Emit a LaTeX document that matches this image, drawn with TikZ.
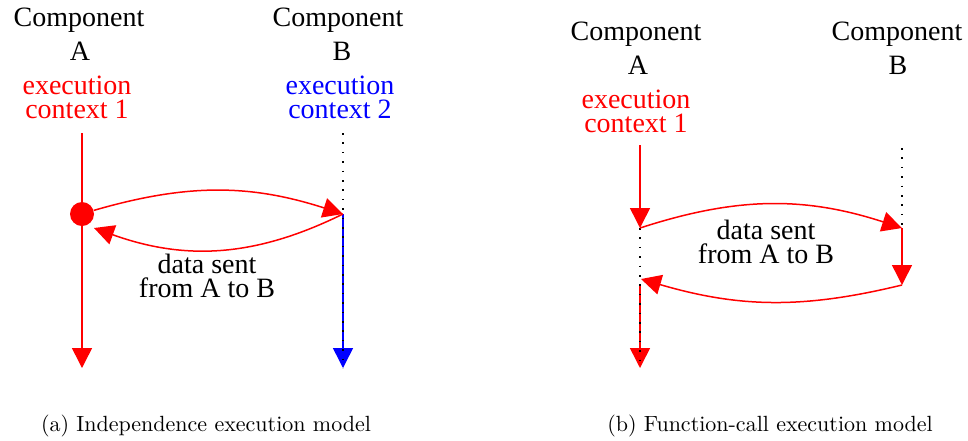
\documentclass[tikz,border=0pt]{standalone}
\usepackage{fontspec}
\setmainfont{Liberation Serif}
\newfontfamily\capfont{Latin Modern Roman}
\usetikzlibrary{arrows.meta}

\tikzset{
  lbl/.style={font=\fontsize{14}{11.8}\selectfont, inner sep=0pt, anchor=base, align=center},
  ctx/.style={lbl, text=#1},
  life/.style={draw=#1, line width=0.75pt},
  lifearr/.style={life=#1, -{Triangle[length=10pt,width=10pt]}},
  msg/.style={draw=red, line width=0.75pt, -{Triangle[length=10pt,width=10pt]}},
  idle/.style={draw=black, line width=0.7pt, dash pattern=on 0.8pt off 3.9pt},
  capt/.style={font=\capfont\fontsize{11}{13}\selectfont, inner sep=0pt, anchor=base},
}

\begin{document}
\begin{tikzpicture}[x=0.5pt, y=-0.5pt]
\useasboundingbox (0,0) rectangle (968,440);

% ---------------- (a) independent execution model ----------------
% (multi-line nodes are anchored at the baseline of their last line)
\node[lbl] (aCompA) at (79,26) {Component};
\node[lbl] (aNameA) at (80,60) {A};
\node[lbl] (aCompB) at (338,26) {Component};
\node[lbl] (aNameB) at (342,60) {B};
\node[ctx=red]  (aCtxA) at (77,118) {execution\\context 1};
\node[ctx=blue] (aCtxB) at (340,118) {execution\\context 2};

\coordinate (aTopA) at (82,133);
\coordinate (aBotA) at (82,368);
\coordinate (aTopB) at (343,133);
\coordinate (aMidB) at (343,214);
\coordinate (aBotB) at (343,368);
\coordinate (aRet)  at (94,228);

\draw[lifearr=red] (aTopA) -- (aBotA);
\draw[lifearr=blue] (aMidB) -- (aBotB);
\draw[idle] (aTopB) -- (aBotB);
\node[circle, fill=red, inner sep=0pt, minimum size=12pt] (aDot) at (82,214) {};

\draw[msg] (aDot) to[bend left=17] (aMidB);
\draw[msg] (aMidB) to[bend left=23] (aRet);

\node[lbl] (aData) at (207,297) {data sent\\from A to B};

\node[capt] (aCap) at (206,431) {(a) Independence execution model};

% ---------------- (b) function-call execution model ----------------
\node[lbl] (bCompA) at (636,40) {Component};
\node[lbl] (bNameA) at (638,74) {A};
\node[lbl] (bCompB) at (897,40) {Component};
\node[lbl] (bNameB) at (898,74) {B};
\node[ctx=red] (bCtxA) at (636,132) {execution\\context 1};

\coordinate (bTopA)  at (640,145);
\coordinate (bCallA) at (640,228);
\coordinate (bRetA)  at (641,279);
\coordinate (bResA)  at (640,285);
\coordinate (bBotA)  at (640,368);
\coordinate (bTopB)  at (902,148);
\coordinate (bCallB) at (902,228);
\coordinate (bRetB)  at (902,285);

\draw[lifearr=red] (bTopA) -- (bCallA);
\draw[idle] (bTopB) -- (bCallB);
\draw[lifearr=red] (bCallB) -- (bRetB);
\draw[lifearr=red] (bResA) -- (bBotA);
\draw[idle] (bCallA) -- (bBotA);

\draw[msg] (bCallA) to[bend left=18] (bCallB);
\draw[msg] (bRetB) to[bend left=15] (bRetA);

\node[lbl] (bData) at (766,263) {data sent\\from A to B};

\node[capt] (bCap) at (770,431) {(b) Function-call execution model};
\end{tikzpicture}
\end{document}
